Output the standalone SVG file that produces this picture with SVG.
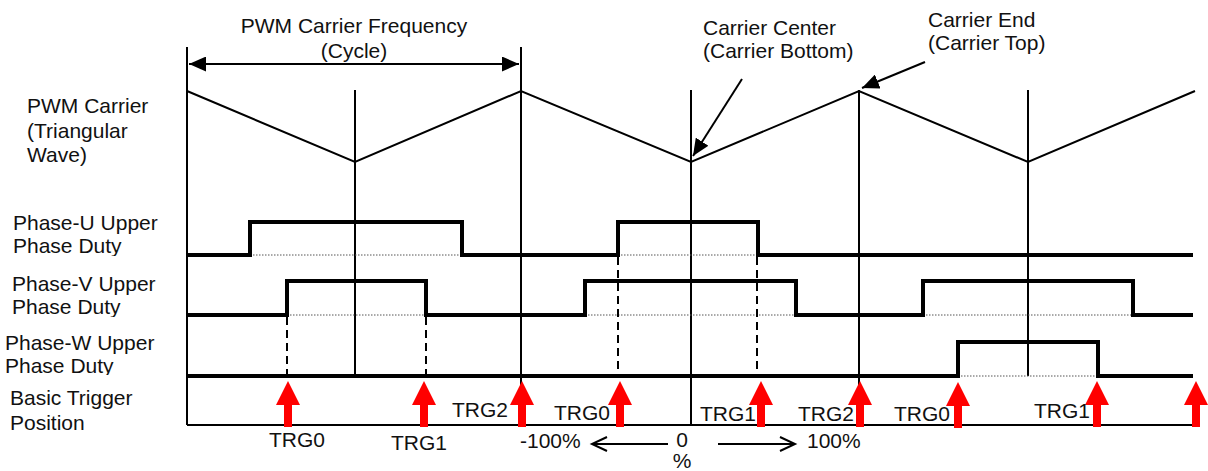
<svg xmlns="http://www.w3.org/2000/svg" width="1208" height="471" viewBox="0 0 1208 471">
<style>
  text { font-family: "Liberation Sans", Arial, sans-serif; font-size: 21px; fill: #111; }
  .thin { stroke: #000; stroke-width: 2; fill: none; }
  .wave { stroke: #000; stroke-width: 4; fill: none; stroke-linejoin: miter; stroke-linecap: butt; }
  .dot { stroke: #555; stroke-width: 1; stroke-dasharray: 1.5 1.5; fill: none; }
  .dash { stroke: #000; stroke-width: 2; stroke-dasharray: 8 5; fill: none; }
  .open { stroke: #000; stroke-width: 2; fill: none; }
  .trg { fill: #ff0000; }
</style>
<defs>
  <marker id="ahBig" markerWidth="17" markerHeight="15" refX="17" refY="7.5" orient="auto-start-reverse" markerUnits="userSpaceOnUse" viewBox="0 0 17 15">
    <path d="M0,0 L17,7.5 L0,15 Z" fill="#000"/>
  </marker>
  <path id="redArrow" class="trg" d="M0,-44 L12,-20 L4,-20 L4,2 L-4,2 L-4,-20 L-12,-20 Z"/>
  <clipPath id="clipU"><rect x="0" y="200" width="186" height="56"/></clipPath>
  <clipPath id="clipV"><rect x="0" y="265" width="186" height="52"/></clipPath>
  <clipPath id="clipW"><rect x="0" y="325" width="186" height="50"/></clipPath>
</defs>

<g id="labels">
  <text x="27" y="113">PWM Carrier</text>
  <text x="27" y="138">(Triangular</text>
  <text x="27" y="162">Wave)</text>
  <g clip-path="url(#clipU)">
    <text x="13" y="230">Phase-U Upper</text>
    <text x="13" y="253">Phase Duty</text>
  </g>
  <g clip-path="url(#clipV)">
    <text x="12" y="291">Phase-V Upper</text>
    <text x="12" y="314">Phase Duty</text>
  </g>
  <g clip-path="url(#clipW)">
    <text x="5" y="350">Phase-W Upper</text>
    <text x="5" y="373">Phase Duty</text>
  </g>
  <text x="10" y="405">Basic Trigger</text>
  <text x="10" y="430">Position</text>
</g>

<g id="frame">
  <line class="thin" x1="187" y1="47" x2="187" y2="425"/>
  <line class="thin" x1="521" y1="47" x2="521" y2="425"/>
  <line class="thin" x1="355" y1="90" x2="355" y2="376"/>
  <line class="thin" x1="691" y1="90" x2="691" y2="425"/>
  <line class="thin" x1="859" y1="90" x2="859" y2="425"/>
  <line class="thin" x1="1028" y1="90" x2="1028" y2="376"/>
  <line class="thin" x1="187" y1="425" x2="1193" y2="425" stroke-width="1.5"/>
</g>

<g id="carrier">
  <polyline class="thin" points="187,91 355,162 521,91 691,162 859,91 1028,162 1195,91"/>
</g>

<g id="cycle">
  <line x1="189" y1="64" x2="519" y2="64" stroke="#000" stroke-width="2" marker-start="url(#ahBig)" marker-end="url(#ahBig)"/>
  <text x="354" y="33" text-anchor="middle">PWM Carrier Frequency</text>
  <text x="354" y="58" text-anchor="middle">(Cycle)</text>
</g>

<g id="carrier-center">
  <text x="703" y="35">Carrier Center</text>
  <text x="703" y="58">(Carrier Bottom)</text>
</g>
<g id="carrier-end">
  <text x="928" y="27">Carrier End</text>
  <text x="928" y="50">(Carrier Top)</text>
</g>

<g id="phase-u">
  <line class="dot" x1="250" y1="255" x2="462" y2="255"/>
  <line class="dot" x1="618" y1="255" x2="758" y2="255"/>
  <path class="wave" d="M187,255 H250 V222 H462 V255 H618 V222 H758 V255 H1193"/>
</g>
<g id="phase-v">
  <line class="dot" x1="287" y1="315" x2="426" y2="315"/>
  <line class="dot" x1="585" y1="315" x2="796" y2="315"/>
  <line class="dot" x1="923" y1="315" x2="1133" y2="315"/>
  <path class="wave" d="M187,315 H287 V281 H426 V315 H585 V281 H796 V315 H923 V281 H1133 V315 H1193"/>
</g>
<g id="phase-w">
  <line class="dot" x1="958" y1="376" x2="1098" y2="376"/>
  <path class="wave" d="M187,376 H958 V342 H1098 V376 H1193"/>
</g>

<g id="connectors">
  <line class="open" x1="742" y1="79" x2="693" y2="156" marker-end="url(#ahBig)"/>
  <line class="open" x1="925" y1="62" x2="862" y2="88" marker-end="url(#ahBig)"/>
  <line class="dash" x1="287" y1="317" x2="287" y2="374"/>
  <line class="dash" x1="426" y1="317" x2="426" y2="374"/>
  <line class="dash" x1="618" y1="257" x2="618" y2="374"/>
  <line class="dash" x1="757" y1="257" x2="757" y2="374"/>
  <line class="open" x1="668" y1="444" x2="592" y2="444"/>
  <polyline class="open" points="607,437 592,444 607,451"/>
  <line class="open" x1="718" y1="444" x2="795" y2="444"/>
  <polyline class="open" points="780,437 795,444 780,451"/>
</g>

<g id="triggers">
  <use href="#redArrow" x="288" y="425"/>
  <use href="#redArrow" x="424" y="425"/>
  <use href="#redArrow" x="522" y="425"/>
  <use href="#redArrow" x="620" y="425"/>
  <use href="#redArrow" x="761" y="425"/>
  <use href="#redArrow" x="860" y="425"/>
  <use href="#redArrow" x="958" y="426"/>
  <use href="#redArrow" x="1097" y="425"/>
  <use href="#redArrow" x="1196" y="425"/>
</g>

<g id="trigger-labels">
  <text x="297" y="447" text-anchor="middle">TRG0</text>
  <text x="419" y="450" text-anchor="middle">TRG1</text>
  <text x="480" y="417" text-anchor="middle">TRG2</text>
  <text x="582" y="420" text-anchor="middle">TRG0</text>
  <text x="728" y="421" text-anchor="middle">TRG1</text>
  <text x="826" y="421" text-anchor="middle">TRG2</text>
  <text x="922" y="421" text-anchor="middle">TRG0</text>
  <text x="1062" y="418" text-anchor="middle">TRG1</text>
  <text x="520" y="448">-100%</text>
  <text x="682" y="447" text-anchor="middle">0</text>
  <text x="682" y="468" text-anchor="middle">%</text>
  <text x="807" y="448">100%</text>
</g>
</svg>
